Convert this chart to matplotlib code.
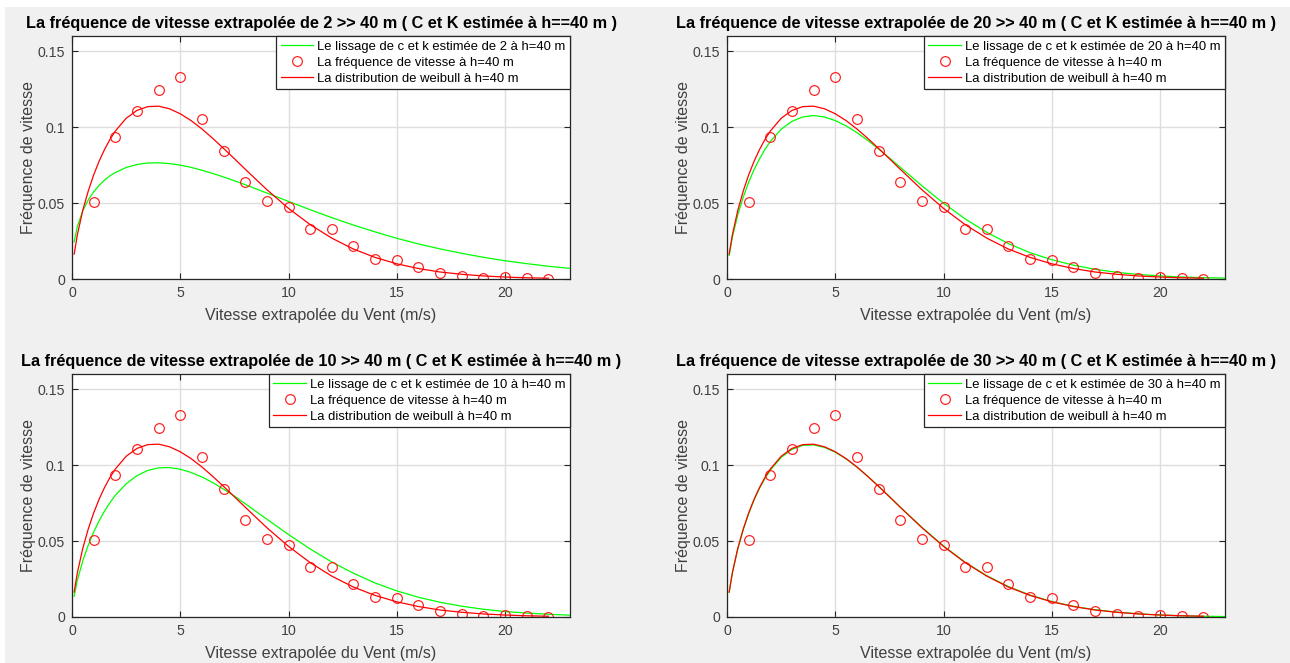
"""Weibull fits of extrapolated wind speed frequencies at h=40 m."""

import matplotlib
matplotlib.use("Agg")
import matplotlib.pyplot as plt
from matplotlib.patches import Rectangle

plt.rcParams["font.family"] = ["Liberation Sans", "DejaVu Sans"]

# observed speed frequencies at h=40 m (same in every panel)
obs_speed = [1, 2, 3, 4, 5, 6, 7, 8, 9, 10, 11, 12, 13, 14, 15, 16, 17, 18, 19, 20, 21, 22]
obs_freq = [0.0507, 0.0932, 0.1103, 0.1246, 0.1329, 0.1053, 0.0846, 0.0640, 0.0513, 0.0476, 0.0329,
            0.0331, 0.0219, 0.0134, 0.0127, 0.0077, 0.0039, 0.0022, 0.0007, 0.0013, 0.0004, 0.0002]

# speeds at which the curves were read
fit_speed = [0.1, 0.25, 0.5, 0.75, 1, 1.25, 1.5, 1.75, 2, 2.5, 3, 3.5, 4, 4.5, 5, 5.5, 6, 6.5,
             7, 7.5, 8, 9, 10, 11, 12, 13, 14, 15, 16, 17, 18, 19, 20, 21, 22, 23]

# weibull distribution at h=40 m (stops at 22 m/s)
weibull_40 = [0.0164, 0.0293, 0.0453, 0.0579, 0.0685, 0.0775, 0.0852, 0.0918, 0.0974, 0.1058, 0.1110, 0.1135,
              0.1138, 0.1121, 0.1088, 0.1043, 0.0988, 0.0926, 0.0860, 0.0792, 0.0723, 0.0588, 0.0465, 0.0358,
              0.0269, 0.0197, 0.0142, 0.0100, 0.0069, 0.0046, 0.0031, 0.0020, 0.0013, 0.0008, 0.0005]

# smoothing with c and k extrapolated from each height
lissage_2 = [0.0244, 0.0347, 0.0450, 0.0520, 0.0574, 0.0616, 0.0651, 0.0679, 0.0701, 0.0734, 0.0754, 0.0764,
             0.0765, 0.0760, 0.0750, 0.0735, 0.0716, 0.0695, 0.0672, 0.0647, 0.0621, 0.0566, 0.0511, 0.0456,
             0.0404, 0.0355, 0.0310, 0.0268, 0.0231, 0.0198, 0.0169, 0.0143, 0.0120, 0.0101, 0.0084, 0.0070]
lissage_20 = [0.0155, 0.0276, 0.0423, 0.0539, 0.0637, 0.0720, 0.0791, 0.0853, 0.0905, 0.0986, 0.1038, 0.1067,
              0.1076, 0.1067, 0.1043, 0.1008, 0.0964, 0.0913, 0.0856, 0.0797, 0.0736, 0.0614, 0.0499, 0.0396,
              0.0307, 0.0233, 0.0173, 0.0127, 0.0091, 0.0064, 0.0044, 0.0030, 0.0020, 0.0013, 0.0009, 0.0006]
lissage_10 = [0.0137, 0.0243, 0.0371, 0.0473, 0.0559, 0.0633, 0.0697, 0.0752, 0.0801, 0.0877, 0.0931, 0.0965,
              0.0982, 0.0984, 0.0973, 0.0952, 0.0922, 0.0885, 0.0842, 0.0796, 0.0746, 0.0644, 0.0543, 0.0448,
              0.0362, 0.0288, 0.0224, 0.0172, 0.0130, 0.0097, 0.0071, 0.0051, 0.0036, 0.0026, 0.0018, 0.0012]
lissage_30 = [0.0163, 0.0291, 0.0450, 0.0575, 0.0680, 0.0770, 0.0847, 0.0912, 0.0967, 0.1051, 0.1104, 0.1130,
              0.1133, 0.1117, 0.1085, 0.1041, 0.0987, 0.0926, 0.0861, 0.0793, 0.0724, 0.0591, 0.0468, 0.0361,
              0.0272, 0.0200, 0.0144, 0.0102, 0.0070, 0.0048, 0.0032, 0.0021, 0.0013, 0.0008, 0.0005, 0.0003]

source_heights = [2, 20, 10, 30]
lissages = [lissage_2, lissage_20, lissage_10, lissage_30]

x_ticks = [0, 5, 10, 15, 20]
y_ticks = [0, 0.05, 0.1, 0.15]
y_tick_labels = ["0", "0.05", "0.1", "0.15"]

W, H = 1290, 663
# axes boxes in pixels: left, top
boxes = [(72, 36), (727, 36), (72, 374), (727, 374)]
AX_W, AX_H = 498, 243

fig = plt.figure(figsize=(W / 100, H / 100), dpi=100, facecolor="white")
fig.patches.append(Rectangle((5 / W, 0), 1 - 5 / W, 1 - 7 / H, transform=fig.transFigure,
                             facecolor="#f0f0f0", edgecolor="none", zorder=-10))

for (left, top), h, lissage in zip(boxes, source_heights, lissages):
    ax = fig.add_axes([left / W, 1 - (top + AX_H) / H, AX_W / W, AX_H / H])
    ax.plot(fit_speed, lissage, color="#00ff00", lw=0.9,
            label=f"Le lissage de c et k estimée de {h} à h=40 m")
    ax.plot(obs_speed, obs_freq, "o", mfc="none", mec="#ff1a1a", ms=7, mew=0.85,
            label="La fréquence de vitesse à h=40 m")
    ax.plot(fit_speed[:len(weibull_40)], weibull_40, color="#ff0000", lw=0.9,
            label="La distribution de weibull à h=40 m")

    ax.set_xlim(0, 23)
    ax.set_ylim(0, 0.16)
    ax.set_xticks(x_ticks)
    ax.set_yticks(y_ticks)
    ax.set_yticklabels(y_tick_labels)
    ax.grid(True, color="#dedede", lw=1.0)
    ax.set_axisbelow(True)
    ax.tick_params(direction="in", top=True, right=True, length=4, width=0.8,
                   labelsize=10.2, colors="#262626", labelcolor="#404040", pad=5)
    for spine in ax.spines.values():
        spine.set_color("#262626")
        spine.set_linewidth(0.9)

    ax.set_title(f"La fréquence de vitesse extrapolée de {h} >> 40 m ( C et K estimée à h==40 m )",
                 fontsize=11.7, fontweight="bold", color="black", pad=6)
    ax.set_xlabel("Vitesse extrapolée du Vent (m/s)", fontsize=11.5, color="#404040", labelpad=6)
    ax.set_ylabel("Fréquence de vitesse", fontsize=11.5, color="#404040", labelpad=1)

    leg = ax.legend(loc="upper right", fontsize=9.4, frameon=True, fancybox=False, framealpha=1,
                    edgecolor="#262626", borderaxespad=0, handlelength=2.5, handletextpad=0.3,
                    labelspacing=0.3, borderpad=0.35)
    leg.get_frame().set_linewidth(0.9)

fig.savefig("out.png", dpi=100, facecolor=fig.get_facecolor())
